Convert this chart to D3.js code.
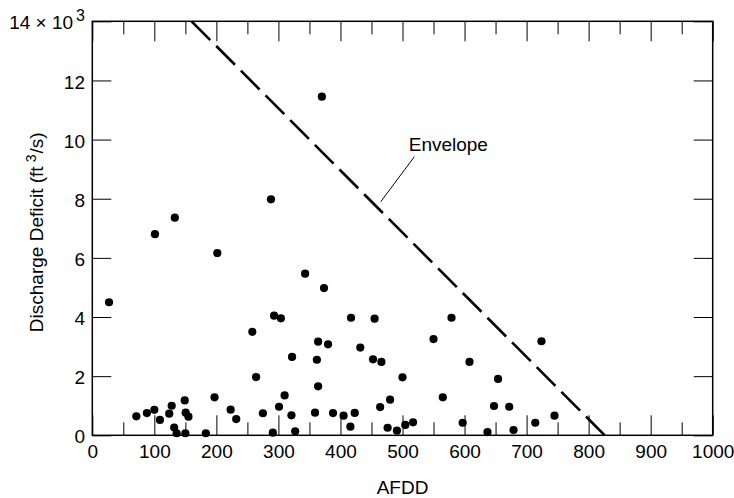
<!DOCTYPE html>
<html><head><meta charset="utf-8">
<script src="https://cdn.jsdelivr.net/npm/d3@7"></script>
<style>
body{margin:0;background:#fff}
svg{display:block}
text{font-family:"Liberation Sans",Arial,Helvetica,sans-serif;fill:#000}
</style>
</head><body>
<svg id="chart" width="734" height="498"></svg>
<script>
// ---- data ----
const afdd    = [27, 71, 88, 100, 101, 109, 124, 128, 132, 133, 136, 149, 150, 150.5, 155, 183, 197, 201.5, 223, 232,
                 258, 264, 275, 288, 291, 293, 301, 304, 310, 321, 322, 327, 343, 359, 362, 364, 364, 370, 373.5, 380,
                 388, 405, 416, 417, 423, 432, 452.5, 455, 464, 466, 476, 480, 491, 500, 504.5, 517, 550, 565, 579, 597,
                 608, 637, 647.5, 654, 672, 679, 714, 724, 745];
const deficit = [4500, 640, 750, 860, 6800, 520, 730, 1000, 260, 7360, 70, 1180, 70, 765, 630, 70, 1285, 6165, 865, 550,
                 3500, 1970, 745, 7980, 90, 4045, 965, 3955, 1350, 675, 2650, 135, 5465, 765, 2555, 3165, 1655, 11450, 4980, 3075,
                 750, 665, 290, 3975, 755, 2965, 2570, 3945, 955, 2480, 255, 1205, 155, 1960, 350, 440, 3255, 1285, 3975, 425,
                 2480, 110, 990, 1905, 965, 180, 425, 3180, 665];
const xMajorTicks = [0, 100, 200, 300, 400, 500, 600, 700, 800, 900, 1000];
const xMinorTicks = [50, 150, 250, 350, 450, 550, 650, 750, 850, 950];
const yTicks      = [0, 2000, 4000, 6000, 8000, 10000, 12000, 14000];
const yTickLabels = ["0", "2", "4", "6", "8", "10", "12", ""];
const yTopLabel   = ["14 \u00d7 10", "3"];
const envelopeLine  = [[160, 14000], [826, 0]];
const envelopeLabel = ["Envelope"];
const envelopeLabelPos = [510, 9620];
const leaderLine    = [[519, 9420], [465, 7900]];
const xTitle = "AFDD";
const yTitle = ["Discharge Deficit (ft", "3", "/s)"];

// ---- layout ----
const W = 734, H = 498;
const L = 92.3, R = 712.7, T = 21.3, B = 435.3;
const FS = 19;

const svg = d3.select("#chart");
const x = d3.scaleLinear().domain([0, 1000]).range([L, R]);
const y = d3.scaleLinear().domain([0, 14000]).range([B, T]);

function styleAxis(g) {
  g.select(".domain").remove();
  g.selectAll(".tick line").attr("stroke", "#000").attr("stroke-width", 1);
  g.selectAll("text").attr("font-size", FS).attr("fill", "#000").attr("font-family", null);
}

// bottom major
svg.append("g").attr("transform", `translate(0,${B})`)
  .call(d3.axisBottom(x).tickValues(xMajorTicks).tickSize(-20).tickPadding(9).tickFormat(d3.format("d")))
  .call(styleAxis);
// bottom minor
svg.append("g").attr("transform", `translate(0,${B})`)
  .call(d3.axisBottom(x).tickValues(xMinorTicks).tickSize(-13).tickFormat(""))
  .call(styleAxis);
// top major/minor
svg.append("g").attr("transform", `translate(0,${T})`)
  .call(d3.axisTop(x).tickValues(xMajorTicks).tickSize(-20).tickFormat(""))
  .call(styleAxis);
svg.append("g").attr("transform", `translate(0,${T})`)
  .call(d3.axisTop(x).tickValues(xMinorTicks).tickSize(-13).tickFormat(""))
  .call(styleAxis);
// left
const gl = svg.append("g").attr("transform", `translate(${L},0)`)
  .call(d3.axisLeft(y).tickValues(yTicks).tickSize(-19).tickPadding(7.3)
        .tickFormat((d, i) => yTickLabels[i]))
  .call(styleAxis);
gl.selectAll("text").attr("dy", "0.4em");
// right
svg.append("g").attr("transform", `translate(${R},0)`)
  .call(d3.axisRight(y).tickValues(yTicks).tickSize(-19).tickFormat(""))
  .call(styleAxis);

// top-left multiplier label
const tl = svg.append("text")
  .attr("x", L - 7.3).attr("y", y(14000)).attr("dy", "0.4em")
  .attr("text-anchor", "end").attr("font-size", FS);
tl.append("tspan").text(yTopLabel[0]);
tl.append("tspan").attr("dy", -8.3).attr("dx", 3).attr("font-size", 16).text(yTopLabel[1]);

// frame
svg.append("rect").attr("x", L).attr("y", T).attr("width", R - L).attr("height", B - T)
  .attr("fill", "none").attr("stroke", "#000").attr("stroke-width", 1.5);

// envelope
svg.append("path")
  .attr("d", d3.line().x(d => x(d[0])).y(d => y(d[1]))(envelopeLine))
  .attr("fill", "none").attr("stroke", "#000").attr("stroke-width", 2.6)
  .attr("stroke-dasharray", "26.5,8.4");

// leader + label
svg.append("path")
  .attr("d", d3.line().x(d => x(d[0])).y(d => y(d[1]))(leaderLine))
  .attr("fill", "none").attr("stroke", "#000").attr("stroke-width", 1);
svg.append("text").attr("x", x(envelopeLabelPos[0])).attr("y", y(envelopeLabelPos[1]))
  .attr("font-size", FS).text(envelopeLabel[0]);

// points
svg.append("g").selectAll("circle").data(afdd.map((v, i) => [v, deficit[i]]))
  .join("circle")
  .attr("cx", d => x(d[0])).attr("cy", d => y(d[1])).attr("r", 4.1).attr("fill", "#000");

// titles
svg.append("text").attr("x", (L + R) / 2).attr("y", 494).attr("text-anchor", "middle")
  .attr("font-size", FS).text(xTitle);
const yt = svg.append("text").attr("transform", `translate(43,${(T + B) / 2 + 4}) rotate(-90)`)
  .attr("text-anchor", "middle").attr("font-size", FS);
yt.append("tspan").text(yTitle[0]);
yt.append("tspan").attr("dy", -7).attr("dx", 4).attr("font-size", 14).text(yTitle[1]);
yt.append("tspan").attr("dy", 7).attr("dx", 1).text(yTitle[2]);
</script>
</body></html>
